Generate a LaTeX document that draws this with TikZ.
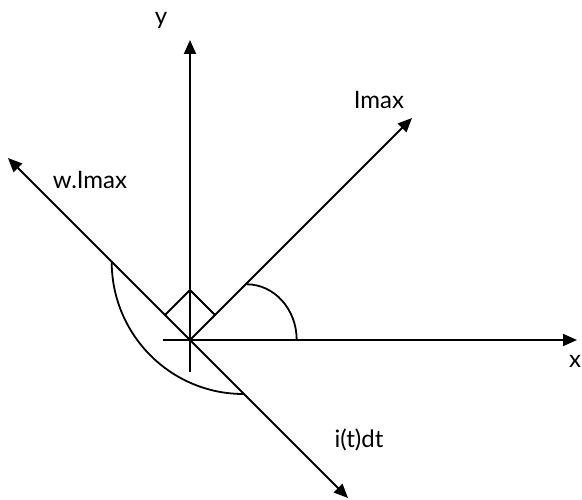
\documentclass[tikz,border=0pt]{standalone}
\usepackage{fontspec}
\setmainfont{Lato}
\usetikzlibrary{arrows.meta,positioning}

\begin{document}
\begin{tikzpicture}[
    x=1pt, y=-1pt,
    line width=1.8pt,
    axis/.style={-{Triangle[length=14pt, width=12pt]}},
    both/.style={{Triangle[length=14pt, width=12pt]}-{Triangle[length=14pt, width=12pt]}},
    lbl/.style={font=\fontsize{24}{28}\selectfont, inner sep=0pt},
]
    \useasboundingbox (0,0) rectangle (582,500);

    % axes and vectors
    \coordinate (O) at (190,340);
    \coordinate (xs) at (163,340);
    \coordinate (xe) at (577,340);
    \coordinate (ys) at (190,372);
    \coordinate (ye) at (190,40);
    \coordinate (imax) at (412,118);
    \coordinate (wimax) at (8,158);
    \coordinate (idt) at (348,498);

    \draw[axis] (xs) -- (xe);
    \draw[axis] (ys) -- (ye);
    \draw[axis] (O) -- (imax);
    \draw[both] (wimax) -- (idt);

    % right angle mark
    \coordinate (sq1) at (165,315);
    \coordinate (sq2) at (190,290);
    \coordinate (sq3) at (215,315);
    \draw (sq1) -- (sq2) -- (sq3);

    % angle arcs
    \coordinate (a1) at (246.7,284.3);
    \coordinate (a2) at (111.7,261.7);
    \draw (a1) arc[start angle=-90, end angle=0, x radius=50, y radius=55.7];
    \draw (a2) arc[start angle=180, end angle=90, x radius=131.7, y radius=132.3];

    % labels
    \node[lbl] (ylab) at (161,20) {y};
    \node[lbl] (xlab) at (575,361) {x};
    \node[lbl] (imaxlab) at (379,100) {Imax};
    \node[lbl] (wimaxlab) at (90,180) {w.Imax};
    \node[lbl] (idtlab) at (359,440) {i(t)dt};
\end{tikzpicture}
\end{document}
